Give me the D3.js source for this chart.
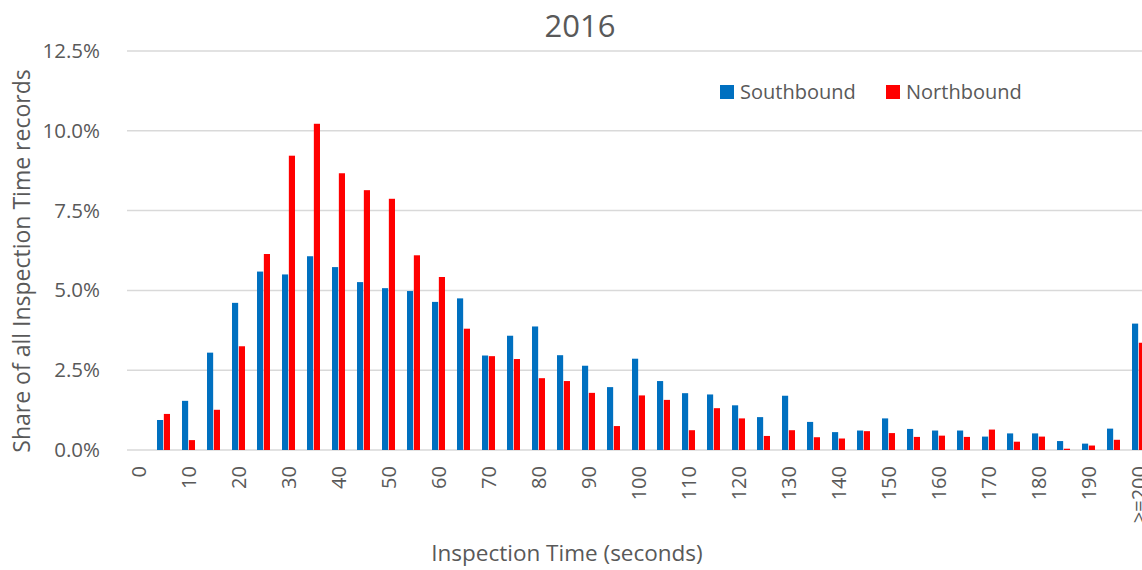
<!DOCTYPE html>
<html>
<head>
<meta charset="utf-8">
<script src="https://cdn.jsdelivr.net/npm/d3@7"></script>
<style>
    body { margin: 0; background: #fff; }
    svg { display: block; font-family: "Open Sans", "Noto Sans", sans-serif; }
</style>
</head>
<body>
<script>
const categories = ["0", "5", "10", "15", "20", "25", "30", "35", "40", "45",
    "50", "55", "60", "65", "70", "75", "80", "85", "90", "95",
    "100", "105", "110", "115", "120", "125", "130", "135", "140", "145",
    "150", "155", "160", "165", "170", "175", "180", "185", "190", "195", ">=200"]

const southbound = [0, 0.94, 1.54, 3.05, 4.61, 5.59, 5.50, 6.07, 5.73, 5.26,
    5.07, 4.98, 4.64, 4.75, 2.96, 3.58, 3.87, 2.97, 2.64, 1.97,
    2.86, 2.16, 1.78, 1.74, 1.40, 1.03, 1.70, 0.88, 0.56, 0.61,
    0.99, 0.66, 0.61, 0.61, 0.42, 0.52, 0.52, 0.28, 0.20, 0.67, 3.96]

const northbound = [0, 1.13, 0.31, 1.26, 3.25, 6.14, 9.22, 10.22, 8.67, 8.14,
    7.87, 6.10, 5.42, 3.80, 2.94, 2.85, 2.25, 2.16, 1.79, 0.75,
    1.71, 1.57, 0.62, 1.31, 0.99, 0.44, 0.62, 0.40, 0.36, 0.59,
    0.53, 0.41, 0.45, 0.41, 0.64, 0.26, 0.42, 0.04, 0.14, 0.32, 3.36]

const seriesNames = ["Southbound", "Northbound"]
const colors = ["#0070C0", "#FF0000"]
const yTicks = [0, 2.5, 5, 7.5, 10, 12.5]

const width = 1142
const height = 570
const plotLeft = 126
const plotTop = 51
const plotBottom = 450
const textColor = "#595959"
const fontFamily = "\"Open Sans\", \"Noto Sans\", sans-serif"

const rows = categories.map((c, i) => ({cat: c, values: [southbound[i], northbound[i]]}))

// scales

const x0 = d3.scaleBand()
    .domain(categories)
    .range([plotLeft, plotLeft + categories.length * 25])
    .paddingInner(0.48)
    .paddingOuter(0.24)

const x1 = d3.scaleBand()
    .domain(seriesNames)
    .range([0, x0.bandwidth()])
    .paddingInner(0.1)

const y = d3.scaleLinear()
    .domain([0, 12.5])
    .range([plotBottom, plotTop])

const svg = d3.select("body")
    .append("svg")
    .attr("width", width)
    .attr("height", height)

// grid lines

svg.append("g")
    .selectAll("line")
    .data(yTicks)
    .enter().append("line")
    .attr("x1", plotLeft + 1)
    .attr("x2", width)
    .attr("y1", d => y(d))
    .attr("y2", d => y(d))
    .attr("stroke", "#d9d9d9")
    .attr("stroke-width", 1.5)

// y axis labels

const yAxis = svg.append("g")
    .attr("transform", `translate(${plotLeft - 23},0)`)
    .call(d3.axisLeft(y).tickValues(yTicks).tickFormat(d => d3.format(".1f")(d) + "%").tickSize(0))
yAxis.select(".domain").remove()
yAxis.selectAll("text")
    .attr("fill", textColor)
    .attr("font-size", 20.5)
    .attr("font-family", fontFamily)

// bars

svg.append("g")
    .selectAll("g")
    .data(rows)
    .enter().append("g")
    .attr("transform", d => `translate(${x0(d.cat)},0)`)
    .selectAll("rect")
    .data(d => d.values.map((v, k) => ({name: seriesNames[k], value: v, k: k})))
    .enter().append("rect")
    .attr("x", d => x1(d.name))
    .attr("width", x1.bandwidth())
    .attr("y", d => y(d.value))
    .attr("height", d => y(0) - y(d.value))
    .attr("fill", d => colors[d.k])

// x axis labels, every other category

const xAxis = svg.append("g")
    .attr("transform", `translate(0,${plotBottom + 16})`)
    .call(d3.axisBottom(x0).tickValues(categories.filter((c, i) => i % 2 === 0)).tickSize(0))
xAxis.select(".domain").remove()
xAxis.selectAll("text")
    .attr("fill", textColor)
    .attr("font-size", 20)
    .attr("font-family", fontFamily)
    .attr("transform", "rotate(-90)")
    .attr("text-anchor", "end")
    .attr("x", 0)
    .attr("y", 0)
    .attr("dy", "0.35em")

// titles

svg.append("text")
    .attr("x", 580)
    .attr("y", 37)
    .attr("text-anchor", "middle")
    .attr("font-size", 31)
    .attr("fill", textColor)
    .text("2016")

svg.append("text")
    .attr("x", 567)
    .attr("y", 561)
    .attr("text-anchor", "middle")
    .attr("font-size", 22.5)
    .attr("fill", textColor)
    .text("Inspection Time (seconds)")

svg.append("text")
    .attr("transform", "translate(30,261) rotate(-90)")
    .attr("text-anchor", "middle")
    .attr("font-size", 23)
    .attr("fill", textColor)
    .text("Share of all Inspection Time records")

// legend

const legendX = [720, 886]
const legend = svg.append("g")
    .selectAll("g")
    .data(seriesNames)
    .enter().append("g")
    .attr("transform", (d, i) => `translate(${legendX[i]},85)`)

legend.append("rect")
    .attr("width", 14)
    .attr("height", 14)
    .attr("fill", (d, i) => colors[i])

legend.append("text")
    .attr("x", 20)
    .attr("y", 14)
    .attr("font-size", 20)
    .attr("fill", textColor)
    .text(d => d)
</script>
</body>
</html>
